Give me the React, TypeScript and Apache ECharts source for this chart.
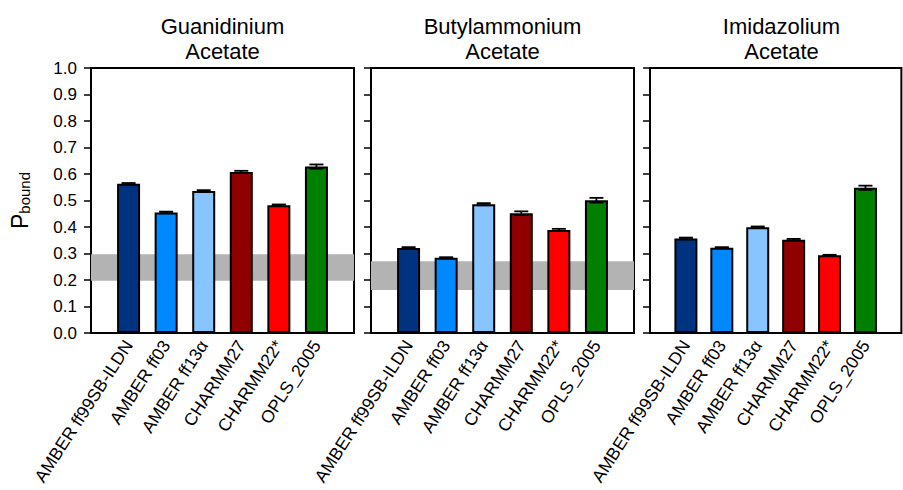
import React, { useEffect, useRef } from "react";
import * as echarts from "echarts";

const categories = ["AMBER ff99SB-ILDN", "AMBER ff03", "AMBER ff13α", "CHARMM27", "CHARMM22*", "OPLS_2005"];
const panelTitles = [
  ["Guanidinium", "Acetate"],
  ["Butylammonium", "Acetate"],
  ["Imidazolium", "Acetate"],
];
const guanValues = [0.563, 0.455, 0.536, 0.608, 0.482, 0.628];
const guanErrors = [0.003, 0.003, 0.003, 0.004, 0.003, 0.008];
const butValues = [0.321, 0.284, 0.486, 0.452, 0.389, 0.501];
const butErrors = [0.003, 0.002, 0.004, 0.007, 0.004, 0.009];
const imiValues = [0.357, 0.322, 0.399, 0.352, 0.293, 0.548];
const imiErrors = [0.003, 0.002, 0.003, 0.003, 0.002, 0.008];
const expBands: (number[] | null)[] = [[0.197, 0.297], [0.162, 0.271], null];
const barColors = ["#00337f", "#0088ff", "#88c4ff", "#900000", "#ff0000", "#007f00"];

const panelValues = [guanValues, butValues, imiValues];
const panelErrors = [guanErrors, butErrors, imiErrors];

const FONT = "'Liberation Sans', Arial, sans-serif";

export default function App() {
  const ref = useRef<HTMLDivElement>(null);
  useEffect(() => {
    if (!ref.current) return;
    const chart = echarts.init(ref.current, undefined, { renderer: "svg" });
    const lefts = [91, 371, 650];
    const top = 68;
    const w = 263;
    const h = 265;
    const xCats = ["", ...categories, ""];

    const grids = lefts.map((l) => ({
      left: l,
      top,
      width: w,
      height: h,
      show: true,
      borderColor: "#000",
      borderWidth: 2,
      backgroundColor: "transparent",
    }));

    const xAxes = lefts.map((_, i) => ({
      type: "category",
      gridIndex: i,
      data: xCats,
      boundaryGap: false,
      axisLine: { show: true, lineStyle: { color: "#000", width: 2 } },
      axisTick: { show: false },
      axisLabel: {
        interval: 0,
        rotate: 57,
        margin: 9,
        fontSize: 17.5,
        color: "#000",
        fontFamily: FONT,
      },
      splitLine: { show: false },
    }));

    const yAxes = lefts.map((_, i) => ({
      type: "value",
      gridIndex: i,
      min: 0,
      max: 1,
      interval: 0.1,
      name: i === 0 ? "{p|P}{s|bound}" : "",
      nameLocation: "middle",
      nameRotate: 90,
      nameGap: 59,
      nameTextStyle: {
        rich: {
          p: { fontSize: 23, fontFamily: FONT, color: "#000" },
          s: { fontSize: 15, fontFamily: FONT, color: "#000", padding: [10, 0, 0, 0] },
        },
      },
      axisLine: { show: true, lineStyle: { color: "#000", width: 2 } },
      axisTick: { show: true, inside: false, length: 7, lineStyle: { color: "#000", width: 1.5 } },
      axisLabel: {
        show: i === 0,
        fontSize: 17,
        color: "#000",
        fontFamily: FONT,
        margin: 14,
        formatter: (v: number) => v.toFixed(1),
      },
      splitLine: { show: false },
    }));

    const series: any[] = [];
    lefts.forEach((_, i) => {
      const band = expBands[i];
      if (band) {
        series.push({
          type: "line",
          xAxisIndex: i,
          yAxisIndex: i,
          data: xCats.map(() => "-"),
          z: 1,
          symbol: "none",
          silent: true,
          markArea: {
            silent: true,
            itemStyle: { color: "#b3b3b3" },
            data: [[{ yAxis: band[0] }, { yAxis: band[1] }]],
          },
        });
      }
      series.push({
        type: "bar",
        xAxisIndex: i,
        yAxisIndex: i,
        z: 3,
        barWidth: 23,
        data: ["-", ...panelValues[i].map((v, j) => ({
          value: v,
          itemStyle: { color: barColors[j], borderColor: "#000", borderWidth: 2 },
        })), "-"],
      });
      series.push({
        type: "custom",
        xAxisIndex: i,
        yAxisIndex: i,
        z: 4,
        encode: { x: 0, y: 1 },
        data: panelValues[i].map((v, j) => [j + 1, v, panelErrors[i][j]]),
        renderItem: (params: any, api: any) => {
          const x = api.value(0);
          const v = api.value(1);
          const e = api.value(2);
          const pTop = api.coord([x, v + e]);
          const pBot = api.coord([x, v - e]);
          const half = 7;
          const style = { stroke: "#000", lineWidth: 1.8 };
          return {
            type: "group",
            children: [
              { type: "line", shape: { x1: pTop[0], y1: pTop[1], x2: pBot[0], y2: pBot[1] }, style },
              { type: "line", shape: { x1: pTop[0] - half, y1: pTop[1], x2: pTop[0] + half, y2: pTop[1] }, style },
              { type: "line", shape: { x1: pBot[0] - half, y1: pBot[1], x2: pBot[0] + half, y2: pBot[1] }, style },
            ],
          };
        },
      });
    });

    const graphics: any[] = [];
    lefts.forEach((l, i) => {
      const cx = l + w / 2;
      graphics.push({
        type: "text",
        x: cx,
        y: 26,
        style: {
          text: panelTitles[i][0],
          font: `22px ${FONT}`,
          fill: "#000",
          textAlign: "center",
          textVerticalAlign: "middle",
        },
      });
      graphics.push({
        type: "text",
        x: cx,
        y: 51,
        style: {
          text: panelTitles[i][1],
          font: `22px ${FONT}`,
          fill: "#000",
          textAlign: "center",
          textVerticalAlign: "middle",
        },
      });
    });

    chart.setOption({
      animation: false,
      backgroundColor: "#fff",
      textStyle: { fontFamily: FONT },
      grid: grids,
      xAxis: xAxes,
      yAxis: yAxes,
      series,
      graphic: graphics,
    });
    return () => chart.dispose();
  }, []);
  return (
    <div
      ref={ref}
      style={{ position: "absolute", left: 0, top: 0, width: 903, height: 490 }}
    />
  );
}
